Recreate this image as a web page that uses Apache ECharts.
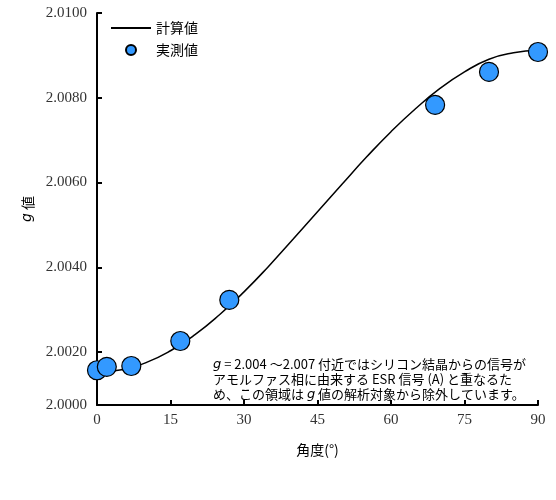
<!DOCTYPE html>
<html><head><meta charset="utf-8">
<script src="https://cdn.jsdelivr.net/npm/echarts@6/dist/echarts.min.js"></script>
<style>html,body{margin:0;padding:0;background:#fff}#c{width:556px;height:500px}</style>
</head><body><div id="c"></div>
<script>
const calcAngles = [0,5,10,15,20,25,30,35,40,45,50,55,60,65,70,75,80,85,90];
const calcG = [2.00152,2.00158,2.00175,2.00203,2.00241,2.00288,2.00342,2.00402,2.00466,2.00531,2.00596,2.00660,2.00720,2.00774,2.00822,2.00861,2.00891,2.00906,2.00912];
const measAngles = [0,2,7,17,27,69,80,90];
const measG = [2.00157,2.00165,2.00167,2.00226,2.00323,2.00783,2.00861,2.00908];
const yTicks = [2.00075,2.002,2.004,2.006,2.008,2.010];
const serif = 'Liberation Serif';
const cjk = 'Noto Sans CJK JP';
const chart = echarts.init(document.getElementById('c'));
chart.setOption({
  animation:false,
  grid:{left:97,right:18,top:13,bottom:95},
  legend:{orient:'vertical',left:106,top:16,itemGap:8,textStyle:{fontFamily:cjk,fontSize:14,color:'#000'},
    data:[{name:'計算値',icon:'path://M0,0L40,0L40,2L0,2Z',itemStyle:{color:'#000'}},
          {name:'実測値',icon:'circle'}],
    itemWidth:40,itemHeight:10},
  xAxis:{type:'value',min:0,max:90,interval:15,
    axisLine:{lineStyle:{color:'#000',width:2}},axisTick:{inside:true,length:5,lineStyle:{color:'#000',width:2}},
    splitLine:{show:false},axisLabel:{color:'#333',fontFamily:serif,fontSize:15,margin:8},
    name:'角度(°)',nameLocation:'middle',nameGap:38,nameTextStyle:{fontFamily:cjk,fontSize:14,color:'#000'}},
  yAxis:{type:'value',min:2.00075,max:2.010,
    axisLine:{show:true,lineStyle:{color:'#000',width:2}},
    axisTick:{show:true,inside:true,length:5,customValues:yTicks.slice(1),lineStyle:{color:'#000',width:2}},
    splitLine:{show:false},
    axisLabel:{customValues:yTicks,color:'#333',fontFamily:serif,fontSize:15,margin:10,
      formatter:v=>v<2.001?'2.0000':v.toFixed(4)},
    name:'{i|g} 値',nameLocation:'middle',nameGap:62,
    nameTextStyle:{fontFamily:cjk,fontSize:14,color:'#000',rich:{i:{fontStyle:'italic',fontFamily:'DejaVu Sans',fontSize:14}}}},
  series:[
    {name:'計算値',type:'line',smooth:true,showSymbol:false,data:calcAngles.map((a,i)=>[a,calcG[i]]),
     lineStyle:{color:'#000',width:1.5},itemStyle:{color:'#000'},z:2},
    {name:'実測値',type:'scatter',symbolSize:19,data:measAngles.map((a,i)=>[a,measG[i]]),
     itemStyle:{color:'#3399ff',borderColor:'#000',borderWidth:1.2,opacity:1},z:3}
  ],
  graphic:[{type:'text',left:213,top:357,style:{
    text:'{i|g} = 2.004 ～2.007 付近ではシリコン結晶からの信号が\nアモルファス相に由来する ESR 信号 (A) と重なるた\nめ、この領域は {i|g} 値の解析対象から除外しています。',
    font:'13px "Noto Sans CJK JP"',fill:'#000',lineHeight:15,
    rich:{i:{fontStyle:'italic',fontFamily:'DejaVu Sans',fontSize:13}}}}]
});
</script></body></html>
